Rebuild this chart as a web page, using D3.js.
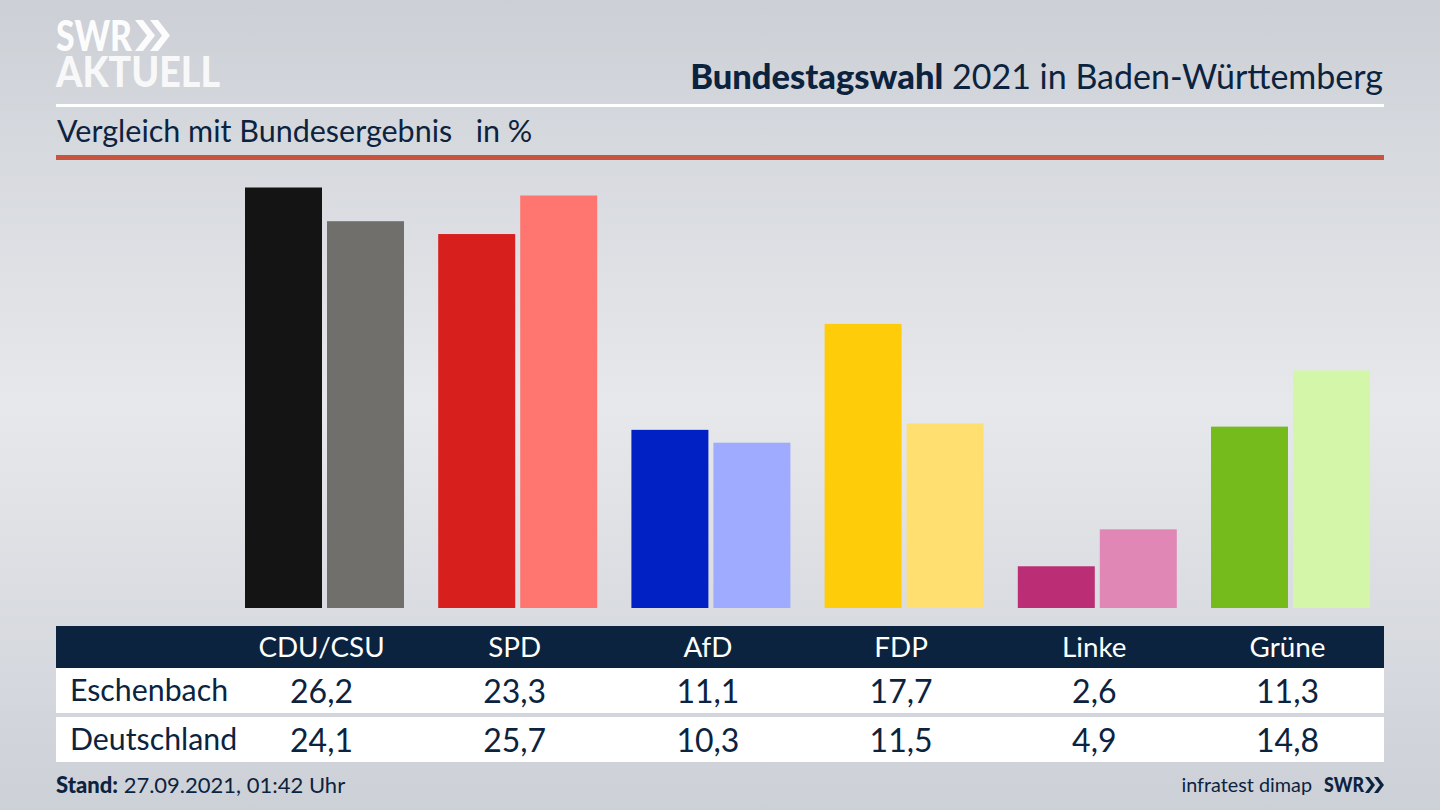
<!DOCTYPE html>
<html>
<head>
<meta charset="utf-8">
<script src="https://cdn.jsdelivr.net/npm/d3@7"></script>
<style>
  html, body { margin: 0; padding: 0; background: #d5d7dc; }
  svg { display: block; }
  text { font-family: Lato, "Noto Sans", sans-serif; fill: #0c2340; }
</style>
</head>
<body>
<div id="chart"></div>
<script>
const parties = ["CDU/CSU", "SPD", "AfD", "FDP", "Linke", "Grüne"];
const eschenbach = [26.2, 23.3, 11.1, 17.7, 2.6, 11.3];
const deutschland = [24.1, 25.7, 10.3, 11.5, 4.9, 14.8];
const strongColors = ["#141414", "#d71f1d", "#0221c4", "#ffcc0a", "#bb2d75", "#76bb1c"];
const paleColors = ["#706f6c", "#ff7570", "#9fabff", "#ffdf70", "#e087b5", "#d3f6a8"];

const fmt = (v) => v.toFixed(1).replace(".", ",");
const navy = "#0c2340";

const svg = d3.select("#chart").append("svg").attr("width", 1440).attr("height", 810);

// background
const defs = svg.append("defs");
const bg = defs.append("linearGradient").attr("id", "bg").attr("x1", 0).attr("y1", 0).attr("x2", 0).attr("y2", 1);
[[0, "#ccd0d6"], [0.5, "#e7e8eb"], [1, "#ccd0d7"]].forEach(([o, c]) =>
  bg.append("stop").attr("offset", o).attr("stop-color", c)
);
svg.append("rect").attr("width", 1440).attr("height", 810).attr("fill", "url(#bg)");

// scales
const x = d3.scalePoint().domain(parties).range([322, 1288]);
const y = d3.scaleLinear().domain([0, 26.2]).range([608, 187.5]);
const barW = 77;
const barGap = 5;

// bars
const groups = svg.selectAll("g.party").data(parties).join("g").attr("class", "party");
groups.append("rect")
  .attr("x", (d) => x(d) - barW)
  .attr("width", barW)
  .attr("y", (d, i) => y(eschenbach[i]))
  .attr("height", (d, i) => y(0) - y(eschenbach[i]))
  .attr("fill", (d, i) => strongColors[i]);
groups.append("rect")
  .attr("x", (d) => x(d) + barGap)
  .attr("width", barW)
  .attr("y", (d, i) => y(deutschland[i]))
  .attr("height", (d, i) => y(0) - y(deutschland[i]))
  .attr("fill", (d, i) => paleColors[i]);

// header rules
svg.append("rect").attr("x", 56).attr("y", 104).attr("width", 1328).attr("height", 3).attr("fill", "#fff");
svg.append("rect").attr("x", 56).attr("y", 155).attr("width", 1328).attr("height", 5).attr("fill", "#c8533f");

// title
const title = svg.append("text").attr("x", 1383).attr("y", 89).attr("text-anchor", "end").attr("font-size", 34);
title.append("tspan").attr("font-weight", 900).attr("font-size", 34.5).text("Bundestagswahl");
title.append("tspan").text(" 2021 in Baden-Württemberg");
svg.append("text").attr("x", 57).attr("y", 142).attr("font-size", 30.5).attr("xml:space", "preserve")
  .text("Vergleich mit Bundesergebnis   in %");

// logo
svg.append("text").attr("x", 56).attr("y", 51).attr("font-size", 42).attr("font-weight", 900)
  .attr("textLength", 76).attr("lengthAdjust", "spacingAndGlyphs")
  .style("fill", "#fff").attr("opacity", 0.95).text("SWR");
svg.append("text").attr("x", 56).attr("y", 87).attr("font-size", 42).attr("font-weight", 900)
  .attr("textLength", 164).attr("lengthAdjust", "spacingAndGlyphs")
  .style("fill", "#fff").attr("opacity", 0.85).text("AKTUELL");
const chevron = (g, cx, top, h, w, t) =>
  g.append("path")
    .attr("d", `M${cx},${top}h${t}l${w},${h / 2}l${-w},${h / 2}h${-t}l${w},${-h / 2}z`)
    .attr("fill", "#fff");
const logoMark = svg.append("g").attr("opacity", 0.95);
chevron(logoMark, 135, 20, 31, 12, 8);
chevron(logoMark, 150, 20, 31, 12, 8);

// table
const tableX = 56, tableW = 1328;
svg.append("rect").attr("x", tableX).attr("y", 626).attr("width", tableW).attr("height", 42).attr("fill", navy);
svg.append("rect").attr("x", tableX).attr("y", 668).attr("width", tableW).attr("height", 45).attr("fill", "#fff");
svg.append("rect").attr("x", tableX).attr("y", 717).attr("width", tableW).attr("height", 45).attr("fill", "#fff");

svg.selectAll("text.head").data(parties).join("text")
  .attr("class", "head")
  .attr("x", (d) => x(d) - 0.5)
  .attr("y", 657)
  .attr("text-anchor", "middle")
  .attr("font-size", 27.8)
  .style("fill", "#fff")
  .text((d) => d);

[["Eschenbach", eschenbach, 701], ["Deutschland", deutschland, 750]].forEach(([name, values, base]) => {
  svg.append("text").attr("x", 70).attr("y", base).attr("font-size", 30.3).text(name);
  svg.selectAll(null).data(values).join("text")
    .attr("x", (d, i) => x(parties[i]) - 0.5)
    .attr("y", base + 1.5)
    .attr("text-anchor", "middle")
    .attr("font-size", 32)
    .text(fmt);
});

// footer
const stand = svg.append("text").attr("x", 56).attr("y", 793).attr("font-size", 22);
stand.append("tspan").attr("font-weight", 900).text("Stand:");
stand.append("tspan").text(" 27.09.2021, 01:42 Uhr");
svg.append("text").attr("x", 1312).attr("y", 792).attr("text-anchor", "end").attr("font-size", 19.8).text("infratest dimap");
svg.append("text").attr("x", 1324).attr("y", 792).attr("font-size", 21).attr("font-weight", 900)
  .attr("textLength", 40).attr("lengthAdjust", "spacingAndGlyphs").text("SWR");
const swrMark = svg.append("g");
const chevronDark = (cx) =>
  swrMark.append("path")
    .attr("d", `M${cx},777h4l6,8l-6,8h-4l6,-8z`)
    .attr("fill", navy);
chevronDark(1365);
chevronDark(1374);
</script>
</body>
</html>
